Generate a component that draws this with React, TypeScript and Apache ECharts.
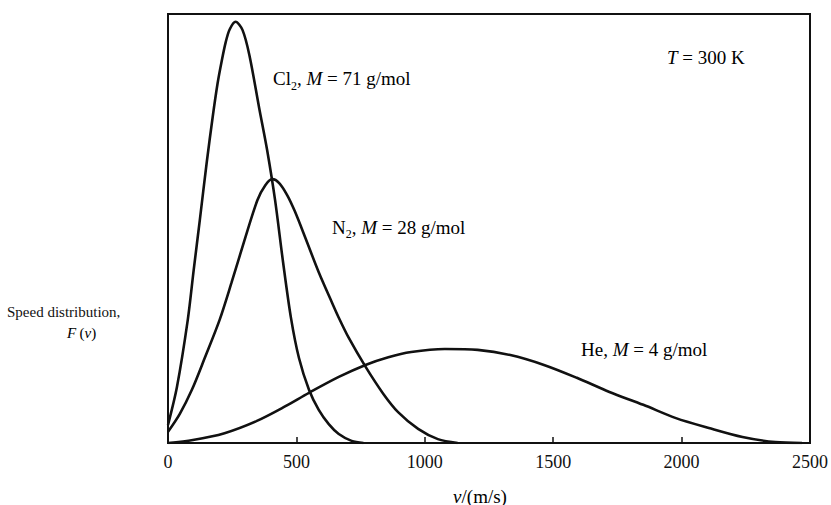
import React, { useEffect, useRef } from "react";
import * as echarts from "echarts";

// Speeds v (m/s) and relative distribution F(v) (0-100 scale)
const cl2Speed = [0, 35, 77, 100, 124, 151, 174, 193, 209, 225, 240, 263, 290, 317, 355, 386, 417, 448, 479, 510, 549, 587, 626, 665, 715, 761];
const cl2F = [4.2, 13.1, 28.7, 40.3, 52.0, 65.5, 76.0, 83.8, 89.0, 93.5, 96.4, 98.2, 96.3, 90.4, 78.1, 68.3, 56.6, 42.2, 29.1, 19.8, 12.4, 7.7, 4.4, 2.1, 0.5, 0];

const n2Speed = [0, 46, 93, 143, 201, 247, 298, 348, 379, 406, 433, 464, 494, 537, 587, 638, 665, 703, 769, 838, 896, 974, 1051, 1128];
const n2F = [2.6, 6.8, 12.4, 19.8, 28.7, 37.3, 47.3, 56.6, 60.1, 61.5, 60.6, 57.8, 54.0, 47.5, 39.8, 32.8, 29.2, 24.6, 17.8, 11.5, 7.2, 3.3, 0.9, 0];

const heSpeed = [0, 97, 220, 344, 452, 549, 665, 769, 858, 947, 1078, 1206, 1333, 1464, 1592, 1719, 1851, 1978, 2106, 2237, 2365, 2469];
const heF = [0, 0.7, 2.3, 5.1, 8.4, 11.7, 15.4, 18.2, 20.0, 21.2, 21.9, 21.7, 20.5, 18.2, 15.2, 11.9, 8.9, 5.8, 3.5, 1.4, 0.2, 0];

const xTicks = [0, 500, 1000, 1500, 2000, 2500];

const SERIF = "'Liberation Serif', 'Times New Roman', serif";
const INK = "#111111";

const zip = (xs: number[], ys: number[]) => xs.map((x, i) => [x, ys[i]]);

const richStyles = {
  n: { fontSize: 19, fontFamily: SERIF, color: INK, lineHeight: 22 },
  i: { fontSize: 19, fontFamily: SERIF, color: INK, lineHeight: 22, fontStyle: "italic" },
  s: { fontSize: 12, fontFamily: SERIF, color: INK, padding: [14, 0, 0, 0] },
};

function annotation(x: number, y: number, text: string) {
  return {
    type: "text",
    x,
    y,
    style: {
      text,
      rich: richStyles,
      align: "left",
      verticalAlign: "middle",
    },
  };
}

export default function App() {
  const ref = useRef<HTMLDivElement>(null);

  useEffect(() => {
    if (!ref.current) return;
    const chart = echarts.init(ref.current, null, { renderer: "svg" });
    const lineSeries = (name: string, xs: number[], ys: number[]) => ({
      name,
      type: "line",
      data: zip(xs, ys),
      showSymbol: false,
      symbol: "none",
      smooth: 0.3,
      lineStyle: { color: INK, width: 2.6 },
      z: 3,
    });
    chart.setOption({
      animation: false,
      backgroundColor: "#ffffff",
      grid: {
        left: 168,
        right: 16,
        top: 14,
        bottom: 62,
        show: true,
        borderColor: INK,
        borderWidth: 2,
        backgroundColor: "transparent",
      },
      xAxis: {
        type: "value",
        min: xTicks[0],
        max: xTicks[xTicks.length - 1],
        interval: 500,
        axisLine: { show: true, lineStyle: { color: INK, width: 2 } },
        axisTick: { show: true, inside: true, length: 6, lineStyle: { color: INK, width: 1.5 } },
        axisLabel: {
          fontFamily: SERIF,
          fontSize: 18,
          color: INK,
          margin: 10,
          formatter: (v: number) => String(v),
        },
        splitLine: { show: false },
      },
      yAxis: {
        type: "value",
        min: 0,
        max: 100,
        axisLine: { show: true, lineStyle: { color: INK, width: 2 } },
        axisTick: { show: false },
        axisLabel: { show: false },
        splitLine: { show: false },
      },
      series: [
        lineSeries("Cl2", cl2Speed, cl2F),
        lineSeries("N2", n2Speed, n2F),
        lineSeries("He", heSpeed, heF),
      ],
      graphic: [
        annotation(273, 78.5, "{n|Cl}{s|2}{n|, }{i|M}{n| = 71 g/mol}"),
        annotation(332, 227, "{n|N}{s|2}{n|, }{i|M}{n| = 28 g/mol}"),
        annotation(581, 349.5, "{n|He, }{i|M}{n| = 4 g/mol}"),
        annotation(667, 57, "{i|T}{n| = 300 K}"),
        {
          type: "text",
          x: 7,
          y: 312,
          style: {
            text: "Speed distribution,",
            fontSize: 15,
            fontFamily: SERIF,
            fill: INK,
            align: "left",
            verticalAlign: "middle",
          },
        },
        {
          type: "text",
          x: 67,
          y: 333,
          style: {
            text: "{a|F} {b|(}{a|v}{b|)}",
            rich: {
              a: { fontSize: 15, fontFamily: SERIF, color: INK, fontStyle: "italic" },
              b: { fontSize: 15, fontFamily: SERIF, color: INK },
            },
            align: "left",
            verticalAlign: "middle",
          },
        },
        {
          type: "text",
          x: 480,
          y: 496,
          style: {
            text: "{a|v}{b|/(m/s)}",
            rich: {
              a: { fontSize: 19, fontFamily: SERIF, color: INK, fontStyle: "italic" },
              b: { fontSize: 19, fontFamily: SERIF, color: INK },
            },
            align: "center",
            verticalAlign: "middle",
          },
        },
      ],
    });
    return () => chart.dispose();
  }, []);

  return (
    <div
      ref={ref}
      style={{ position: "fixed", left: 0, top: 0, width: 831, height: 505, background: "#fff" }}
    />
  );
}
